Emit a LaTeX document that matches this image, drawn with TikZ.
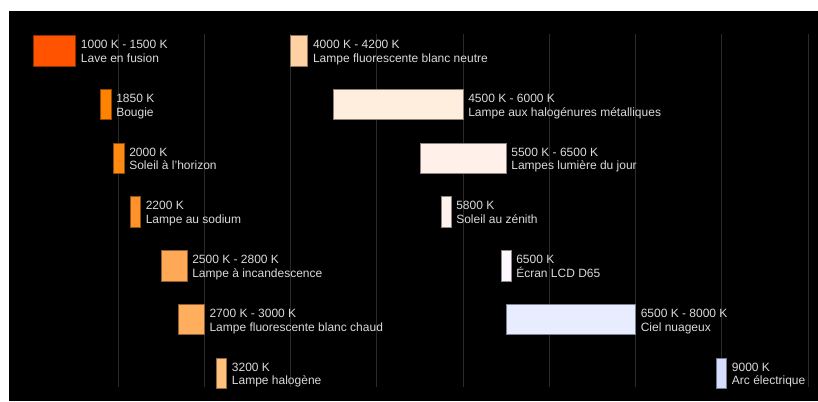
\documentclass[tikz,border=0pt]{standalone}
\usepackage{fontspec}
\setmainfont{Liberation Sans}
\definecolor{labelgrey}{HTML}{DADADA}
\definecolor{gridgrey}{HTML}{2A2A2A}
\definecolor{cA}{HTML}{FF5300}
\definecolor{cB}{HTML}{FF8200}
\definecolor{cC}{HTML}{FF8A12}
\definecolor{cD}{HTML}{FF9329}
\definecolor{cE}{HTML}{FFA957}
\definecolor{cF}{HTML}{FFAE5E}
\definecolor{cG}{HTML}{FFC07C}
\definecolor{cH}{HTML}{FFD1A3}
\definecolor{cI}{HTML}{FFEDDE}
\definecolor{cJ}{HTML}{FFF0EA}
\definecolor{cK}{HTML}{FFF3EE}
\definecolor{cL}{HTML}{FFF9FF}
\definecolor{cM}{HTML}{E8ECFF}
\definecolor{cN}{HTML}{D6DEFF}
% name, x0, x1, top, colour, line1, line2
\newcommand\mkbar[7]{%
  \draw[tempbox, fill=#5, draw=#5!55!black] (#2,#4) rectangle (#3,#4+30.5);
  \node[lbl] (#1) at (#3+5,#4+26.8) {#6\\#7};
}
\begin{document}
\begin{tikzpicture}[x=0.75pt,y=-0.75pt,
  lbl/.style={anchor=base west, align=left, inner sep=0pt, text=labelgrey,
    font=\fontsize{9}{10.2}\selectfont},
  gridline/.style={draw=gridgrey, line width=0.75pt},
  tempbox/.style={line width=0.6pt}]
\useasboundingbox (0,0) rectangle (818,401);
\fill[white] (0,0) rectangle (818,401);
\fill[black] (9,11) rectangle (818,401);
\foreach \gx in {118,204.25,290.5,376.75,463,549.25,635.5,721.75,808}
  \draw[gridline] (\gx,34) -- (\gx,387);
% left column
\mkbar{lave}{33.3}{75.7}{35.5}{cA}{1000 K - 1500 K}{Lave en fusion}
\mkbar{bougie}{100}{111}{89.25}{cB}{1850 K}{Bougie}
\mkbar{horizon}{113}{124}{143}{cC}{2000 K}{Soleil à l'horizon}
\mkbar{sodium}{130.5}{140.5}{196.75}{cD}{2200 K}{Lampe au sodium}
\mkbar{incand}{161.1}{187}{250.5}{cE}{2500 K - 2800 K}{Lampe à incandescence}
\mkbar{fluochaud}{178.4}{204.25}{304.25}{cF}{2700 K - 3000 K}{Lampe fluorescente blanc chaud}
\mkbar{halogene}{216.7}{226.7}{358}{cG}{3200 K}{Lampe halogène}
% right column
\mkbar{fluoneutre}{290.5}{307.75}{35.5}{cH}{4000 K - 4200 K}{Lampe fluorescente blanc neutre}
\mkbar{halomet}{333.6}{463}{89.25}{cI}{4500 K - 6000 K}{Lampe aux halogénures métalliques}
\mkbar{jour}{420}{506.1}{143}{cJ}{5500 K - 6500 K}{Lampes lumière du jour}
\mkbar{zenith}{441}{451}{196.75}{cK}{5800 K}{Soleil au zénith}
\mkbar{lcd}{501}{511}{250.5}{cL}{6500 K}{Écran LCD D65}
\mkbar{nuageux}{506.1}{635.5}{304.25}{cM}{6500 K - 8000 K}{Ciel nuageux}
\mkbar{arc}{716.7}{726.7}{358}{cN}{9000 K}{Arc électrique}
\end{tikzpicture}
\end{document}
